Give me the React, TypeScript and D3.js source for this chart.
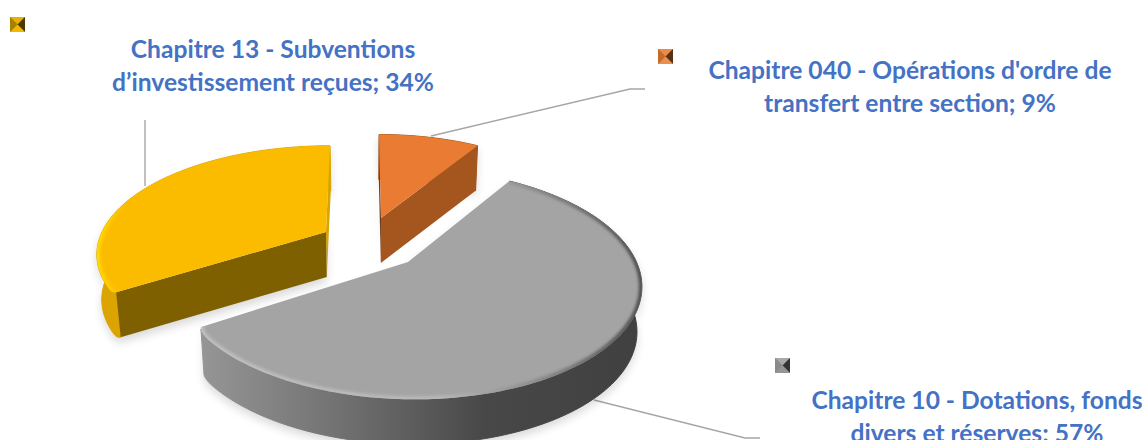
import React from "react";
import * as d3 from "d3";

// Data
const categories = [
  "Chapitre 040 - Opérations d'ordre de transfert entre section",
  "Chapitre 10 - Dotations, fonds divers et réserves",
  "Chapitre 13 - Subventions d’investissement reçues",
];
const shares = [9, 57, 34];
const labelLines = [
  ["Chapitre 040 - Opérations d'ordre de", "transfert entre section; 9%"],
  ["Chapitre 10 - Dotations, fonds", "divers et réserves; 57%"],
  ["Chapitre 13 - Subventions", "d’investissement reçues; 34%"],
];

// Styles
const topColors = ["#e97c32", "#a4a4a4", "#fbbc00"];
const cutColors = ["#a5561f", "#5a5a5a", "#7f6000"];
const sliverColors = ["#6e3d1c", "#5a5a5a", "#d8a400"];
const rimColors = ["none", "url(#grayRim)", "url(#yellowRim)"];
const wallFills = ["#a5561f", "url(#grayWall)", "#dba400"];
const keyShades = [
  ["#ec8a48", "#c46a2a", "#5a3014", "#e8904e"],
  ["#a8a8a8", "#8a8a8a", "#343434", "#969696"],
  ["#e4b200", "#a88000", "#4a3800", "#f0b800"],
];

// Layout
const centers: [number, number][] = [[381, 218], [408, 262], [326, 232]];
const skews = [0.024, 0.05, -0.047];
const xScales = [0.95, 1.02, 1];
const yScales = [0.92, 1.03, 0.95];
const cornerDelta = [0, 0.1, 0.04];
const cornerInner = [1, 0.97, 0.985];
const RX = 224, RY = 108, PERSP = 0.19, DEPTH = 45, VX = 370, SHRINK = 0.982;
const labelPos: [number, number][] = [[910, 79], [977, 409], [273, 58]];
const LINE_H = 33;
const keyPos: [number, number][] = [[658, 49], [775, 358], [10, 17]];
const leaders: [number, number][][] = [
  [[431, 136], [630, 89], [645, 89]],
  [[594, 400], [745, 438], [760, 438]],
  [[145, 120], [145, 186]],
];

type Pt = [number, number];
const project = (i: number, t: number, r = 1): Pt => {
  const X = Math.sin(t) * r, Y = -Math.cos(t) * r;
  const w = 1 - PERSP * Y;
  const v = ((RY * Y) / w) * yScales[i];
  return [centers[i][0] + ((RX * X) / w) * xScales[i] + skews[i] * v, centers[i][1] + v];
};
const extrude = ([x, y]: Pt): Pt => [VX + (x - VX) * SHRINK, y + DEPTH];
const line = d3.line<Pt>();
const quadCurve = (a: Pt, c: Pt, b: Pt): Pt[] =>
  d3.range(1, 8).map((k) => {
    const s = k / 8;
    return [
      (1 - s) * (1 - s) * a[0] + 2 * s * (1 - s) * c[0] + s * s * b[0],
      (1 - s) * (1 - s) * a[1] + 2 * s * (1 - s) * c[1] + s * s * b[1],
    ] as Pt;
  });

export default function App() {
  const arcs = d3.pie<number>().value((d) => d).sort(null)(shares);
  const order = [2, 0, 1];
  const arcPts = (i: number): Pt[] => {
    const a = arcs[i];
    const s = a.startAngle + (i === 2 ? cornerDelta[i] : 0);
    const e = a.endAngle - (i === 1 ? cornerDelta[i] : 0);
    const n = Math.ceil((e - s) * 40);
    const pts = d3.range(n + 1).map((k) => project(i, s + ((e - s) * k) / n));
    if (i === 2) {
      const r = project(i, a.startAngle, cornerInner[i]);
      return [r, ...quadCurve(r, project(i, a.startAngle), pts[0]), ...pts];
    }
    if (i === 1) {
      const r = project(i, a.endAngle, cornerInner[i]);
      return [...pts, ...quadCurve(pts[n], project(i, a.endAngle), r), r];
    }
    return pts;
  };
  return (
    <svg width={1145} height={440} style={{ position: "absolute", left: 0, top: 0, display: "block" }}
      fontFamily="Lato, Carlito, sans-serif">
      <defs>
        <filter id="soft" x="-20%" y="-20%" width="140%" height="140%"><feGaussianBlur stdDeviation="5" /></filter>
        <filter id="rim" x="-20%" y="-20%" width="140%" height="140%"><feGaussianBlur stdDeviation="1.8" /></filter>
        <linearGradient id="grayWall" gradientUnits="userSpaceOnUse" x1="196" x2="640" y1="0" y2="0">
          <stop offset="0" stopColor="#979797" />
          <stop offset="0.3" stopColor="#747474" />
          <stop offset="0.65" stopColor="#484848" />
          <stop offset="1" stopColor="#404040" />
        </linearGradient>
        <linearGradient id="grayRim" gradientUnits="userSpaceOnUse" x1="196" x2="640" y1="0" y2="0">
          <stop offset="0" stopColor="#c0c0c0" />
          <stop offset="0.55" stopColor="#b8b8b8" />
          <stop offset="0.75" stopColor="#8e8e8e" />
          <stop offset="1" stopColor="#505050" />
        </linearGradient>
        <linearGradient id="yellowRim" gradientUnits="userSpaceOnUse" x1="98" x2="125" y1="0" y2="0">
          <stop offset="0" stopColor="#ffdc00" />
          <stop offset="1" stopColor="#fbbc00" />
        </linearGradient>
        {order.map((i) => (
          <clipPath id={`top${i}`} key={i}>
            <path d={line([centers[i], ...arcPts(i)])! + "Z"} />
          </clipPath>
        ))}
      </defs>

      {leaders.map((l, i) => (
        <path key={i} d={line(l)!} fill="none" stroke="#a6a6a6" strokeWidth={1.4} />
      ))}

      {order.map((i) => {
        const pts = arcPts(i);
        // the gray wall stops at the leftmost point of its rounded corner
        const wallPts = i === 1 ? pts.slice(0, d3.leastIndex(pts, (a, b) => a[0] - b[0])! + 1) : pts;
        const bottom = wallPts.map(extrude).reverse();
        const c = centers[i];
        const first = pts[0], last = pts[pts.length - 1];
        const quad = (p: Pt) => line([c, p, extrude(p), extrude(c)])! + "Z";
        const solid = line([c, ...pts, ...bottom, extrude(c)])! + "Z";
        return (
          <g key={categories[i]}>
            <path d={solid} transform="translate(0,5)" fill="#000" opacity={0.15} filter="url(#soft)" />
            <path d={line([...wallPts, ...bottom])! + "Z"} fill={wallFills[i]} stroke={wallFills[i]} strokeWidth={1} strokeLinejoin="round" />
            {i === 0 && <path d={quad(first)} fill={sliverColors[i]} />}
            {i === 0 && <path d={quad(last)} fill={cutColors[i]} />}
            {i === 2 && <path d={quad(last)} fill={sliverColors[i]} />}
            {i === 2 && <path d={quad(first)} fill={cutColors[i]} />}
            <path d={line([c, ...pts])! + "Z"} fill={topColors[i]} />
            {rimColors[i] !== "none" && (
              <g clipPath={`url(#top${i})`}>
                <path d={line(i === 2 ? pts.slice(0, 60) : pts)!} fill="none" stroke={rimColors[i]} strokeWidth={6} filter="url(#rim)" />
              </g>
            )}
          </g>
        );
      })}

      {keyPos.map(([x, y], i) => {
        const s = 15, m = s / 2;
        const [top, left, right, bot] = keyShades[i];
        const mid = `${x + m},${y + m}`;
        return (
          <g key={i}>
            <rect x={x} y={y} width={s} height={s} fill={left} />
            <polygon points={`${x},${y} ${x + s},${y} ${mid}`} fill={top} />
            <polygon points={`${x},${y} ${x},${y + s} ${mid}`} fill={left} />
            <polygon points={`${x + s},${y} ${x + s},${y + s} ${mid}`} fill={right} />
            <polygon points={`${x},${y + s} ${x + s},${y + s} ${mid}`} fill={bot} />
          </g>
        );
      })}

      {labelLines.map((ls, i) =>
        ls.map((t, j) => (
          <text key={t} x={labelPos[i][0]} y={labelPos[i][1] + j * LINE_H} textAnchor="middle"
            fontSize={24.6} fontWeight={700} fill="#4472c4">{t}</text>
        ))
      )}
    </svg>
  );
}
